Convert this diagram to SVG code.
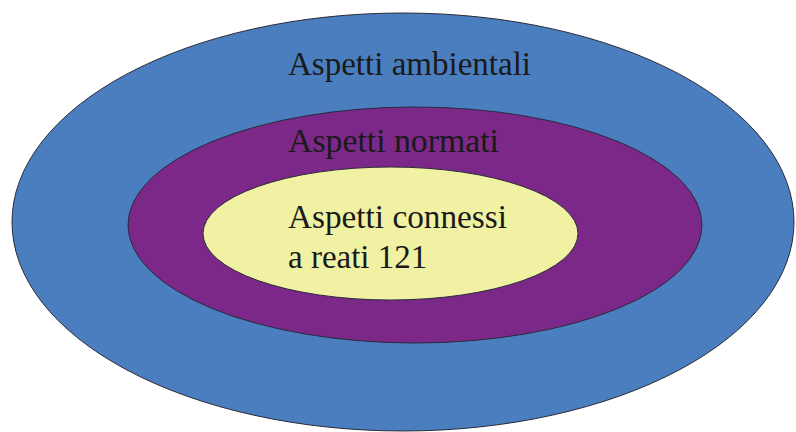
<svg xmlns="http://www.w3.org/2000/svg" width="796" height="432" viewBox="0 0 796 432">
<defs>
<style>
.ring{stroke:#2a2a3a;stroke-width:1}
</style>
</defs>
<rect width="796" height="432" fill="#ffffff"/>
<g id="outer">
<ellipse class="ring" cx="403" cy="222" rx="391" ry="209" fill="#4A7EBF"/>
<text font-family="Liberation Serif" font-size="33" fill="#1a1a1a" x="288" y="75" textLength="243" lengthAdjust="spacingAndGlyphs">Aspetti ambientali</text>
</g>
<g id="middle">
<ellipse class="ring" cx="415" cy="225" rx="287" ry="118" fill="#7C2889"/>
<text font-family="Liberation Serif" font-size="33" fill="#1a1a1a" x="288" y="152" textLength="211" lengthAdjust="spacingAndGlyphs">Aspetti normati</text>
</g>
<g id="inner">
<ellipse class="ring" cx="390.5" cy="233.5" rx="187.5" ry="66.5" fill="#F1F1A4"/>
<text font-family="Liberation Serif" font-size="33" fill="#1a1a1a" x="288" y="228" textLength="219" lengthAdjust="spacingAndGlyphs">Aspetti connessi</text>
<text font-family="Liberation Serif" font-size="33" fill="#1a1a1a" x="288" y="268">a reati 121</text>
</g>
<g id="connectors"/>
</svg>
